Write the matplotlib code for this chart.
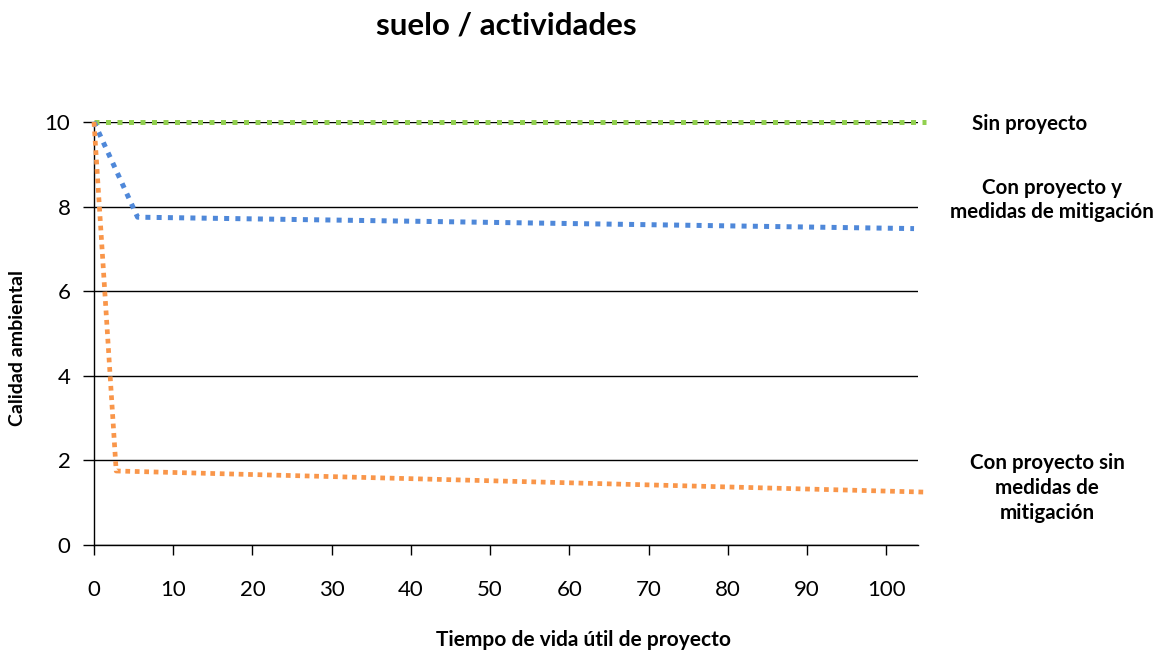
import matplotlib
matplotlib.use("Agg")
import matplotlib.pyplot as plt

plt.rcParams["font.family"] = ["Lato", "DejaVu Sans"]

# data
sin_x = [0, 105]
sin_y = [10, 10]
mit_x = [0, 5.5, 103.5]
mit_y = [10, 7.75, 7.48]
nomit_x = [0, 2.8, 105]
nomit_y = [10, 1.75, 1.25]
xticks = [0, 10, 20, 30, 40, 50, 60, 70, 80, 90, 100]
yticks = [0, 2, 4, 6, 8, 10]

W, H = 1164, 652
fig = plt.figure(figsize=(W / 100, H / 100), dpi=100)
ax = fig.add_axes([94 / W, 1 - 545 / H, (918 - 94) / W, (545 - 122) / H])

ax.set_xlim(0, 104)
ax.set_ylim(0, 10)
ax.set_xticks(xticks)
ax.set_yticks(yticks)
ax.grid(axis="y", color="black", linewidth=1.0, zorder=1)
ax.set_axisbelow(True)

for s in ["top", "right"]:
    ax.spines[s].set_visible(False)
for s in ["left", "bottom"]:
    ax.spines[s].set_linewidth(1.0)

ax.tick_params(axis="x", direction="out", length=7.5, width=1.0, labelsize=16, pad=18)
ax.tick_params(axis="y", direction="out", length=8, width=1.0, labelsize=16, pad=9)

ax.plot(sin_x, sin_y, color="#92D050", linewidth=3.6, linestyle=(0, (1, 1.3)),
        dash_capstyle="butt", clip_on=False, zorder=3)
ax.plot(mit_x, mit_y, color="#4F88D9", linewidth=3.6, linestyle=(0, (1, 1.25)),
        dash_capstyle="butt", clip_on=False, zorder=3)
ax.plot(nomit_x, nomit_y, color="#F9964A", linewidth=3.4, linestyle=(0, (1, 1.0)),
        dash_capstyle="butt", clip_on=False, zorder=3)

fig.text(506 / W, 1 - 26 / H, "suelo / actividades", ha="center", va="center",
         fontsize=22.5, fontweight="bold")
fig.text(583 / W, 1 - 640 / H, "Tiempo de vida útil de proyecto", ha="center",
         va="center", fontsize=15, fontweight="bold")
fig.text(18 / W, 1 - 348 / H, "Calidad ambiental", ha="center", va="center",
         rotation=90, fontsize=14, fontweight="bold")

fig.text(1030 / W, 1 - 124 / H, "Sin proyecto", ha="center", va="center",
         fontsize=14.8, fontweight="bold")
fig.text(1052 / W, 1 - 200 / H, "Con proyecto y\nmedidas de mitigación", ha="center",
         va="center", fontsize=14.8, fontweight="bold", linespacing=1.3)
fig.text(1047 / W, 1 - 488 / H, "Con proyecto sin\nmedidas de\nmitigación", ha="center",
         va="center", fontsize=14.8, fontweight="bold", linespacing=1.3)

fig.savefig("out.png", dpi=100)
